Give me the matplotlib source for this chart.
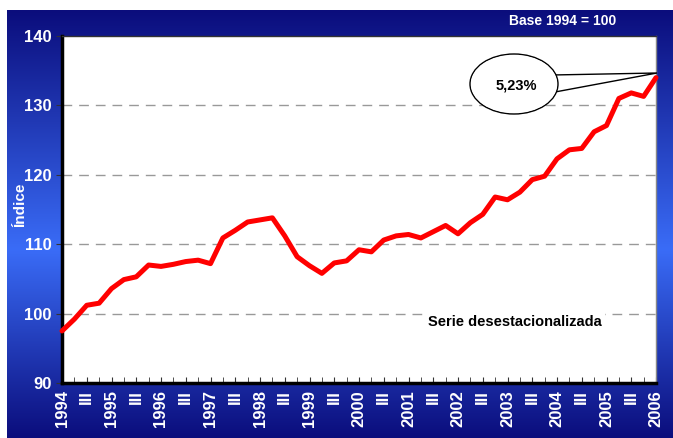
import matplotlib
matplotlib.use("Agg")
import matplotlib.pyplot as plt
import numpy as np
from matplotlib.patches import Ellipse, Polygon
from matplotlib.colors import LinearSegmentedColormap

plt.rcParams["font.family"] = ["Liberation Sans", "DejaVu Sans"]

# quarterly index, 1994 Q1 .. 2006 Q1 (seasonally adjusted)
indice = [97.5, 99.2, 101.2, 101.5, 103.6, 104.9, 105.3, 107.0,
          106.8, 107.1, 107.5, 107.7, 107.2, 110.9, 112.0, 113.2,
          113.5, 113.8, 111.2, 108.2, 106.9, 105.8, 107.3, 107.6,
          109.2, 108.9, 110.6, 111.2, 111.4, 110.9, 111.8, 112.7,
          111.5, 113.1, 114.3, 116.8, 116.4, 117.5, 119.3, 119.8,
          122.3, 123.6, 123.8, 126.2, 127.1, 131.0, 131.8, 131.3, 134.0]
years = list(range(1994, 2007))
tick_labels = []
for y in years:
    tick_labels.append(str(y))
    if y != years[-1]:
        tick_labels.append("III")
y_ticks = [90, 100, 110, 120, 130, 140]

W, H = 673, 438
fig = plt.figure(figsize=(W / 100, H / 100), dpi=100)
fig.patch.set_facecolor("white")

# blue gradient frame
bg = fig.add_axes([7 / W, 0, 1 - 7 / W, 1 - 10 / H])
cmap = LinearSegmentedColormap.from_list(
    "frame", [(0.0, "#0b0d7c"), (0.56, "#3a6cf7"), (1.0, "#0b0d7c")])
grad = np.linspace(0, 1, 256).reshape(-1, 1)
bg.imshow(grad, aspect="auto", cmap=cmap, extent=[0, 1, 0, 1])
bg.set_axis_off()

ax = fig.add_axes([62 / W, 1 - 383 / H, (656 - 62) / W, (383 - 36) / H])
ax.set_facecolor("white")
x = np.arange(len(indice))
ax.plot(x, indice, color="#ff0000", lw=3.6, solid_joinstyle="round",
        solid_capstyle="round", zorder=3, clip_on=False)

ax.set_xlim(0, len(indice) - 1)
ax.set_ylim(90, 140)
ax.set_yticks(y_ticks)
ax.set_yticklabels([str(v) for v in y_ticks], color="white",
                   fontsize=12, fontweight="bold")
ax.set_xticks(np.arange(0, len(indice), 2))
ax.set_xticklabels(tick_labels, rotation=90, color="white",
                   fontsize=12, fontweight="bold")
ax.set_xticks(x, minor=True)
ax.tick_params(axis="x", which="both", direction="in", length=4,
               color="#333333", pad=5)
ax.tick_params(axis="y", direction="out", length=4, color="#333333")

for v in y_ticks[1:-1]:
    ax.axhline(v, color="#999999", lw=1, ls=(0, (7, 5)), zorder=1)

ax.spines["left"].set_linewidth(2.5)
ax.spines["bottom"].set_linewidth(2.5)
ax.spines["top"].set_linewidth(1)
ax.spines["right"].set_linewidth(1)
ax.spines["top"].set_color("#333333")
ax.spines["right"].set_color("#888888")

fig.text(20 / W, 1 - 205 / H, "Índice", rotation=90, color="white",
         fontsize=11, fontweight="bold", ha="center", va="center")

ax.text(0.763, 0.176, "Serie desestacionalizada", transform=ax.transAxes,
        ha="center", va="center", fontsize=10.5, fontweight="bold",
        color="black", zorder=4,
        bbox=dict(facecolor="white", edgecolor="none", pad=2))

# callout bubble
ell = Ellipse((514 / W, 1 - 84 / H), 88 / W, 60 / H,
              transform=fig.transFigure, facecolor="white",
              edgecolor="black", lw=1, zorder=5)
fig.add_artist(ell)
tail = Polygon([(552 / W, 1 - 75 / H), (657 / W, 1 - 73 / H),
                (555 / W, 1 - 92 / H)], closed=True,
               transform=fig.transFigure, facecolor="white",
               edgecolor="black", lw=1, zorder=4)
fig.add_artist(tail)
ell2 = Ellipse((514 / W, 1 - 84 / H), 86 / W, 58 / H,
               transform=fig.transFigure, facecolor="white",
               edgecolor="none", zorder=6)
fig.add_artist(ell2)
fig.text(516 / W, 1 - 85 / H, "5,23%", ha="center", va="center",
         fontsize=10.5, fontweight="bold", zorder=7)

fig.text(563 / W, 1 - 21 / H, "Base 1994 = 100", ha="center", va="center",
         fontsize=10, fontweight="bold", color="white")

fig.savefig("out.png", dpi=100)
